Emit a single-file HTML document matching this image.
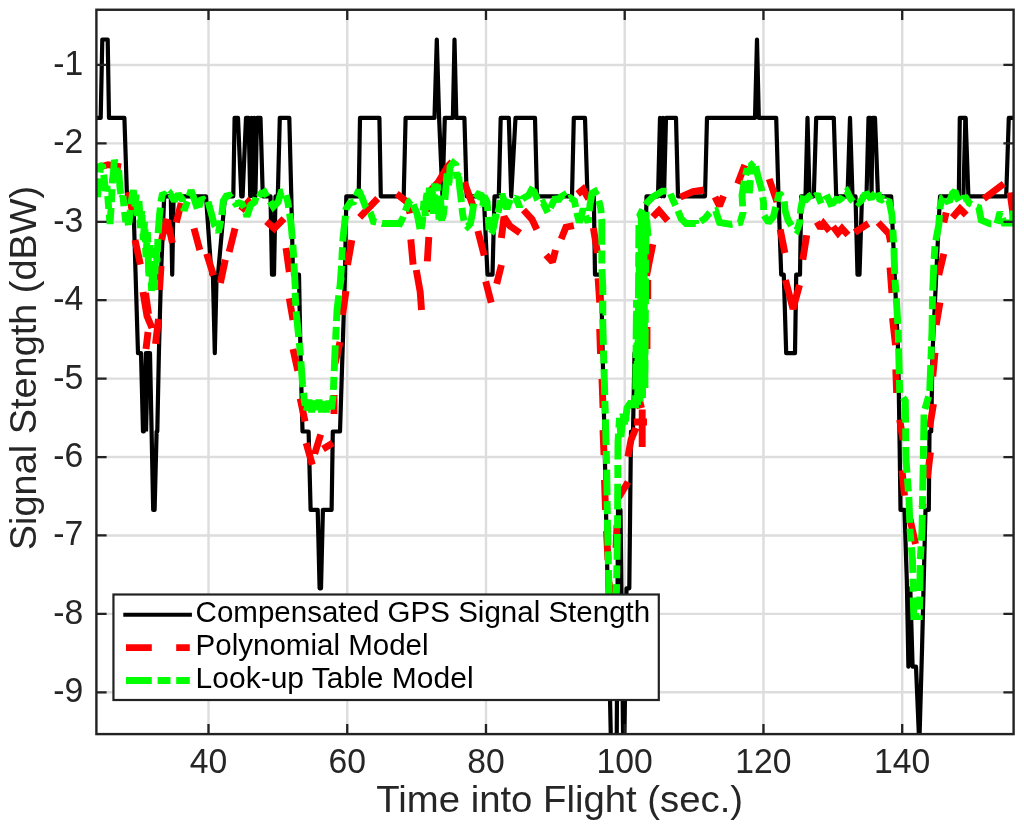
<!DOCTYPE html><html><head><meta charset="utf-8"><title>Signal Strength</title>
<style>html,body{margin:0;padding:0;background:#fff}svg{display:block}text{font-family:"Liberation Sans",Arial,Helvetica,sans-serif}</style></head><body>
<svg width="1024" height="827" viewBox="0 0 1024 827">
<rect width="1024" height="827" fill="#fff"/>
<path d="M208.50 9.75V734.10M347.24 9.75V734.10M485.98 9.75V734.10M624.72 9.75V734.10M763.46 9.75V734.10M902.20 9.75V734.10M96.40 64.94H1013.60M96.40 143.36H1013.60M96.40 221.78H1013.60M96.40 300.20H1013.60M96.40 378.62H1013.60M96.40 457.04H1013.60M96.40 535.46H1013.60M96.40 613.88H1013.60M96.40 692.30H1013.60" stroke="#dddddd" stroke-width="2.4" fill="none"/>
<clipPath id="c"><rect x="96.40" y="9.75" width="917.20" height="724.35"/></clipPath>
<g clip-path="url(#c)" fill="none" stroke-linejoin="round">
<polyline points="96.2,117.9 100.7,117.9 102.3,39.5 107.7,39.5 109.0,117.9 124.4,117.9 127.0,196.3 133.2,196.3 138.0,353.1 141.0,353.1 143.0,431.5 143.8,431.5 145.9,353.1 150.0,353.1 153.2,509.9 154.6,509.9 156.6,431.5 157.3,431.5 158.9,353.1 161.0,274.7 164.2,196.3 170.8,196.3 172.2,274.7 173.6,196.3 206.0,196.3 211.5,274.7 212.9,274.7 214.8,353.1 216.6,274.7 218.0,274.7 225.0,196.3 233.3,196.3 234.6,117.9 238.0,117.9 241.3,196.3 242.6,196.3 246.0,117.9 248.6,117.9 250.2,196.3 251.6,117.9 253.0,196.3 254.2,117.9 255.4,196.3 257.0,117.9 260.5,117.9 262.8,196.3 270.5,196.3 272.0,274.7 274.0,274.7 275.5,196.3 277.8,196.3 279.8,117.9 289.3,117.9 291.3,196.3 293.0,274.7 299.0,274.7 300.5,353.1 302.5,431.5 308.6,431.5 310.6,509.9 317.7,509.9 319.6,588.3 321.0,588.3 322.9,509.9 331.6,509.9 332.8,431.5 340.0,431.5 342.5,353.1 345.0,274.7 346.3,196.3 358.7,196.3 360.0,117.9 379.4,117.9 380.8,196.3 403.7,196.3 405.6,117.9 434.5,117.9 436.8,39.5 439.1,117.9 442.5,196.3 444.8,117.9 452.9,117.9 454.5,39.5 456.3,117.9 464.4,117.9 466.7,196.3 483.8,196.3 487.5,274.7 492.5,274.7 494.5,196.3 498.8,196.3 500.7,117.9 508.8,117.9 511.2,196.3 515.5,117.9 535.0,117.9 537.0,196.3 572.0,196.3 573.8,117.9 585.0,117.9 587.5,196.3 593.8,196.3 595.0,274.7 601.0,274.7 611.0,745.1 616.7,745.1 618.0,509.9 620.5,509.9 623.2,745.1 624.3,745.1 626.5,588.3 629.3,588.3 631.0,431.5 633.0,431.5 634.5,353.1 641.5,353.1 643.5,274.7 645.0,274.7 646.5,196.3 658.0,196.3 660.0,117.9 661.5,196.3 663.0,117.9 664.0,196.3 666.0,117.9 676.0,117.9 678.0,196.3 705.0,196.3 707.0,117.9 755.0,117.9 757.0,39.5 758.8,117.9 776.2,117.9 778.5,196.3 781.2,274.7 783.8,274.7 786.2,353.1 795.0,353.1 796.2,274.7 800.0,274.7 801.2,196.3 805.5,196.3 807.5,117.9 809.5,196.3 813.8,196.3 816.2,117.9 833.8,117.9 836.2,196.3 847.5,196.3 850.0,117.9 852.5,196.3 855.5,196.3 857.5,274.7 859.5,274.7 862.0,196.3 866.5,196.3 868.5,117.9 870.5,117.9 871.5,196.3 872.5,117.9 875.0,117.9 878.0,196.3 891.2,196.3 898.2,353.1 899.7,450.0 900.5,509.9 904.5,509.9 906.8,580.0 908.4,666.7 910.3,588.3 912.6,666.7 916.0,666.7 919.3,745.1 922.0,650.0 925.5,509.9 928.8,509.9 929.5,431.5 931.2,431.5 932.5,353.1 940.0,196.3 958.8,196.3 959.8,117.9 965.6,117.9 968.4,196.3 1006.2,196.3 1008.8,117.9 1014.5,117.9" stroke="#000" stroke-width="4.2"/>
<polyline points="965.4,117.9 963.4,196.3" stroke="#000" stroke-width="4.2"/>
<polyline points="148.0,353.1 146.0,431.5" stroke="#000" stroke-width="4.2"/>
<path d="M96.0 168.0L108.0 164.7L121.0 167.0M128.3 192.0L133.0 214.6M135.0 240.0L140.4 264.6M143.0 292.0L147.0 316.0L152.0 328.0M145.5 293.0L148.5 314.0M148.0 332.0L146.0 349.0M155.5 343.8L158.5 319.0M159.5 290.0L161.0 266.0M161.6 240.0L166.5 218.6M167.5 220.5L172.4 243.0M176.3 222.5L181.2 203.0M194.0 228.4L199.8 250.0M206.7 253.8L213.5 275.4M220.4 283.0L225.3 259.7M229.2 251.9L235.0 228.4M241.0 210.7L250.8 199.0M266.4 221.5L274.3 228.4L284.0 218.6M286.0 248.0L289.3 272.0M289.3 298.3L293.0 320.0M293.0 349.0L297.8 370.8M300.2 398.5L305.0 421.5M306.2 443.0L312.3 464.7M314.7 453.8L320.7 434.5M323.0 449.0L332.8 443.0M334.0 414.0L334.0 395.0M335.0 363.5L340.0 342.0M342.5 315.0L346.0 291.0M347.5 265.0L351.8 240.2M359.7 217.4L377.7 198.5M396.6 193.8L407.6 202.5L410.0 213.5M410.8 239.4L413.1 264.6M416.3 270.0L420.2 292.0L421.5 310.0M427.3 261.4L428.8 237.0M429.3 212.0L431.0 190.0L438.3 182.0L447.7 166.3L452.0 162.0M464.2 182.0L472.9 205.6M477.9 231.0L484.2 255.5M485.7 281.4L491.2 302.6M496.7 283.8L501.4 265.0M501.4 238.0L504.0 217.0L510.0 226.0L520.0 233.0M523.5 210.0L532.0 219.3L536.8 229.5M546.0 255.0L552.5 262.0L555.5 250.0M561.2 239.0L565.9 227.2L573.8 225.6M577.7 194.0L583.2 189.4L588.7 198.9M593.4 228.0L597.4 253.0M598.1 278.3L599.7 302.6M599.7 329.0L600.5 354.0M602.0 379.0L603.0 408.0M603.0 430.0L604.0 455.0M604.5 480.0L605.5 510.0M606.5 531.0L608.0 560.0M609.0 582.0L611.0 600.0L614.0 585.0M616.0 548.0L617.0 525.0M618.6 497.5L628.0 482.0M628.0 456.6L631.0 440.0L636.0 428.0M634.0 422.0L647.0 422.0M642.2 447.0L642.2 409.4M636.0 406.0L644.0 404.0M647.0 349.0L647.0 327.0M647.7 299.0L647.7 280.0M646.5 275.8L652.8 244.3M652.8 216.8L659.0 210.5L667.7 220.8M680.3 197.2L693.0 191.7L704.0 190.0M715.0 197.0L719.5 206.0L723.5 196.0M737.7 183.8L744.8 165.0M769.2 179.0L777.0 201.9M780.2 229.4L784.9 253.0M785.5 280.0L793.0 309.0L799.5 285.0M802.8 259.7L806.7 235.2M817.0 222.0L820.5 228.0L823.5 223.5L829.5 231.0M833.0 226.5L838.0 233.0L842.0 228.5L848.0 235.0M854.7 232.3L868.4 223.5M878.2 222.5L889.0 234.0L890.5 242.0M890.0 267.5L891.9 293.0M892.5 318.0L895.5 345.0M895.8 369.3L896.6 393.0M899.7 419.6L903.0 440.0M902.0 470.4L904.5 495.6M910.0 519.0L915.5 544.0M921.8 508.0L923.3 503.0M927.3 478.3L930.4 452.4M929.6 427.5L933.5 404.0M932.8 376.4L935.0 352.8M936.2 325.0L940.0 302.5M938.8 275.0L943.8 253.8M943.8 222.5L946.2 212.5M952.5 217.5L960.0 208.8L966.2 215.0M983.8 198.8L1003.8 183.8M1010.0 192.5L1012.5 210.0L1014.0 222.0" stroke="#f00" stroke-width="6.9" stroke-linejoin="miter" stroke-miterlimit="1.7"/>
<path d="M96.4 190.0L97.5 197.0L99.0 182.0L99.3 178.4M99.9 172.6L100.5 166.0L102.5 165.0L103.0 169.0M103.7 174.7L104.0 177.0L105.5 191.0L107.0 186.0L107.3 190.1M107.7 195.9L108.5 206.0L108.7 208.8M109.2 214.5L110.0 224.0L111.1 207.8M111.4 202.0L112.1 189.1M112.3 183.4L112.5 180.0L113.5 172.0L114.4 160.0L115.0 162.2M116.2 167.8L117.3 179.0L117.5 177.3M118.4 171.7L118.6 170.0L120.0 188.0L120.8 194.0M121.8 198.3L123.0 196.0L123.9 206.2M124.5 211.9L125.8 222.0L127.2 216.0L128.4 225.4M129.0 222.9L130.0 214.0L130.4 210.0M131.0 204.4L131.5 200.0L133.3 190.0L134.3 201.2M134.8 207.0L134.8 207.0L136.2 195.0L136.3 195.8M136.6 201.5L137.6 216.0L138.6 204.8M139.0 201.0L139.7 213.9M140.0 219.6L140.4 228.0L141.7 210.7M142.0 215.1L142.6 228.0M142.9 233.7L143.2 240.0L144.6 222.0L144.7 223.4M144.9 229.2L145.4 242.1M145.6 247.8L146.0 257.0L146.9 240.4M147.3 234.6L147.4 232.0L147.7 242.3M147.9 247.9L148.7 273.7M148.9 276.5L149.4 263.6M149.7 257.9L150.2 245.0L150.6 257.9M150.8 263.7L151.2 276.6M151.3 282.3L151.6 291.0L152.4 273.9M152.7 268.1L153.0 262.0L153.3 268.7M153.6 274.4L154.4 290.0L154.7 279.8M154.9 274.0L155.4 261.1M155.6 255.4L155.8 248.0L157.0 262.0L157.2 257.7M157.4 251.9L157.9 239.0M158.1 233.3L158.2 232.0L159.5 215.0L160.3 207.6M160.9 201.8L161.0 201.0L162.6 193.1L165.7 195.6M169.9 194.6L170.4 194.1L174.4 200.9L178.3 194.1L182.2 199.0L182.7 202.0M183.6 207.7L184.1 210.7L187.3 201.4M189.1 196.0L191.0 190.2L194.9 200.9L197.3 208.8M199.0 207.1L201.8 198.0L204.1 200.4M208.1 201.6L211.6 214.6L214.5 225.4L215.1 226.4M218.0 231.4L218.4 232.3L220.9 220.6M221.8 215.0L223.3 200.9L226.3 196.0L229.2 195.3L231.0 197.6M234.5 202.3L235.6 203.8L239.0 202.9L241.9 203.8L244.2 207.6M245.9 213.0L246.8 216.6L250.8 204.8L254.7 201.9L256.0 197.4M257.9 192.3L261.0 194.2L264.5 192.1L267.0 196.6M270.0 201.5L273.3 206.8L278.2 201.9L281.1 192.1L283.4 191.5M286.0 195.2L288.0 202.9L288.7 207.8M289.5 213.4L290.9 222.5L292.4 239.0M292.9 244.8L293.7 257.7M294.0 263.4L294.2 267.5L295.3 289.2M295.1 292.8L295.8 305.7M296.1 311.4L298.0 330.0L298.7 337.0M299.3 342.8L300.2 351.5L300.5 355.6M300.9 361.3L302.6 385.0L302.8 387.1M303.5 392.8L304.5 402.0L305.3 405.6M306.5 410.9L309.0 400.0L311.5 412.0L312.0 409.7M313.3 404.0L314.0 401.0L316.2 410.6M317.4 407.8L319.0 400.0L321.5 412.0L322.7 406.6M324.0 401.0L326.5 412.0L326.9 410.4M328.1 404.8L329.0 401.0L331.5 409.0L333.1 395.6M333.4 389.8L333.9 376.9M334.2 371.2L335.0 351.5L335.3 345.4M335.6 339.6L336.2 326.8M336.5 321.1L337.0 310.0L338.8 295.4M339.5 289.6L341.3 276.9M341.0 278.8L340.1 285.2L341.4 267.5L341.5 265.8M341.8 260.1L342.2 251.9L342.5 247.2M342.8 241.5L343.0 238.1L345.0 220.5L345.4 215.8M345.8 210.0L346.0 208.8L349.9 202.9L353.8 201.9L354.0 201.4M356.2 196.2L358.7 190.2L362.6 199.0L365.5 206.8L366.4 207.8M370.1 212.2L370.4 212.7L373.4 221.5L376.3 222.2M381.9 223.4L382.2 223.5L390.0 223.5L397.9 223.3L399.9 223.6L402.9 217.7L403.3 216.6M405.3 211.1L405.8 209.8L408.7 202.0L411.2 200.0M413.3 204.3L414.6 207.9L417.1 213.8L419.0 223.6L420.0 229.1M421.1 229.0L422.4 222.6L422.9 216.2M423.3 210.5L423.9 201.0L425.4 215.7L425.5 214.2M425.8 208.4L426.4 195.5M426.8 192.6L428.0 209.8L428.6 201.3M428.9 195.5L429.4 187.8L429.8 193.0M430.2 198.6L430.8 205.9L432.0 187.5M432.3 189.0L432.9 201.9M433.2 207.6L433.5 213.8L434.4 194.1M434.7 188.4L434.9 183.4L435.3 191.3M435.6 197.0L436.3 209.8L437.0 196.9M437.3 191.1L437.6 184.4L437.9 190.5M438.1 196.2L439.0 219.6L439.1 217.3M439.4 211.5L440.1 198.6M440.4 195.5L441.7 221.2M442.6 218.2L443.5 213.8L444.3 205.5M444.9 199.8L445.0 199.1L446.1 184.4L447.0 174.1M447.5 173.0L448.6 185.9M449.0 183.1L450.1 166.8L453.3 162.8L455.7 164.8L455.9 166.0M456.3 171.8L456.9 178.5L458.1 172.4M458.7 176.5L459.7 187.3L461.1 199.1L461.4 202.2M462.0 207.9L462.6 213.8L464.0 220.7M466.5 225.5L467.5 226.5L470.4 223.6L472.4 213.8L473.7 203.6M475.4 198.1L478.3 194.2L481.2 195.2L481.9 200.1M482.6 205.7L482.7 205.9L484.1 196.1L487.1 202.0L487.8 211.1M488.3 216.9L489.0 229.4L489.1 229.7M491.0 233.6L492.5 231.4L493.9 225.5L496.0 213.8L496.0 218.6L496.1 218.2M497.8 212.6L498.9 208.8L500.7 200.1M501.8 194.5L501.9 194.1L504.8 202.9L506.8 208.8L510.4 199.6M515.5 197.1L515.6 197.0L519.5 206.8L520.3 204.7M522.3 199.4L522.4 198.9L525.4 197.0L528.3 195.6L531.3 190.2L534.2 191.7L537.1 199.0L537.7 200.0M541.1 203.6L543.0 202.9L547.9 212.6M550.4 207.7L552.8 202.9L555.4 197.4L558.0 200.8L560.6 197.0L563.9 195.0L564.9 196.4M569.0 198.7L570.4 198.0L574.4 200.9L575.7 207.2M576.9 212.7L577.3 214.6L579.3 222.5L583.2 208.8L583.7 210.2M585.6 215.7L588.1 222.5L588.7 216.8M589.3 211.2L590.0 204.8L592.0 193.1L594.9 191.5L596.9 195.2M598.8 200.6L600.8 208.8L601.2 213.3M601.6 219.0L601.8 220.5L601.8 238.1L601.8 244.7M601.8 250.5L601.8 263.4M601.9 269.1L602.8 287.1L602.8 294.9M602.8 300.7L602.8 312.0L602.5 312.0L602.5 313.4M602.7 319.1L603.4 344.9M603.5 350.7L603.9 363.5M604.0 369.2L604.8 395.0M604.9 400.8L605.2 410.0L605.3 413.7M605.4 419.4L606.1 445.2M606.3 451.0L606.5 460.0L606.6 463.9M606.7 469.6L607.1 495.4M607.1 501.2L607.4 514.1M607.4 519.8L607.6 530.0L608.0 545.6M608.1 551.4L608.4 564.3M608.5 570.0L609.0 590.0L609.2 595.8M609.5 601.6L610.0 614.5M610.3 620.2L610.5 625.0L612.5 640.0L613.1 634.2M613.7 628.4L614.5 620.0L614.8 615.6M615.2 609.9L616.5 590.0L616.6 584.1M616.7 578.3L616.9 565.4M617.0 559.7L617.4 534.0M617.5 528.2L617.6 515.3M617.6 509.6L617.7 483.8M617.8 478.0L617.8 470.0L617.8 465.1M617.9 459.4L618.0 442.0L618.5 433.6M618.9 427.8L619.5 418.0L619.7 421.1M620.2 426.8L621.0 437.0L622.3 421.5M622.8 415.7L623.0 414.0L624.8 425.0M625.5 421.3L627.0 408.0L631.0 402.0L633.5 406.5M635.5 408.2L635.6 395.3M635.7 389.6L635.9 363.8M636.0 358.0L636.1 345.1M636.1 339.4L636.4 313.6M636.4 307.8L636.5 300.0L636.6 305.1M636.6 310.8L636.9 336.6M637.0 342.4L637.1 355.3M637.2 361.0L637.5 386.8M637.6 392.6L637.7 405.0L637.7 404.5M637.7 398.8L637.9 373.0M638.0 367.2L638.0 354.3M638.1 348.6L638.2 322.8M638.3 317.0L638.4 304.1M638.4 298.4L638.6 272.6M638.6 266.8L638.7 253.9M638.7 248.2L638.9 225.0L638.9 227.6M639.0 233.4L639.0 246.3M639.1 252.0L639.3 277.8M639.3 283.6L639.4 296.5M639.4 302.2L639.6 328.0M639.6 333.8L639.7 346.7M639.8 352.4L639.9 378.2M640.0 384.0L640.1 396.9M640.1 401.4L640.3 375.6M640.3 369.8L640.4 356.9M640.4 351.2L640.6 325.4M640.6 319.6L640.7 306.7M640.8 301.0L640.9 275.2M641.0 269.4L641.0 256.5M641.1 250.8L641.3 225.0M641.3 219.2L641.3 218.0L641.4 229.7M641.4 235.4L641.6 261.2M641.6 267.0L641.7 279.9M641.8 285.6L641.9 311.4M642.0 317.2L642.0 330.1M642.1 335.8L642.3 361.6M642.3 367.4L642.4 380.3M642.4 386.0L642.5 398.0L642.6 384.2M642.6 378.4L642.7 365.5M642.8 359.8L642.9 334.0M643.0 328.2L643.0 315.3M643.1 309.6L643.2 283.8M643.3 278.0L643.4 265.1M643.4 259.4L643.6 233.6M643.6 227.8L643.7 215.0L643.7 215.1M643.7 220.8L643.9 246.6M644.0 252.4L644.0 265.3M644.1 271.0L644.3 296.8M644.3 302.6L644.4 315.5M644.4 321.2L644.6 347.0M644.7 352.8L644.7 365.7M644.8 371.4L644.9 388.0L645.0 378.8M645.0 373.0L645.1 360.1M645.1 354.4L645.3 328.6M645.3 322.8L645.4 309.9M645.5 304.2L645.6 278.4M645.7 272.6L645.8 259.8M645.8 254.1L646.0 228.3M646.0 222.5L646.1 212.0L646.3 214.4M646.7 220.1L648.0 236.0L644.5 226.8M642.5 221.3L640.0 214.6L642.6 209.5M645.6 204.7L646.8 202.9L652.7 197.0L662.5 191.1L666.4 191.1M670.4 193.8L673.3 200.9L675.6 205.6M678.0 210.7L681.1 218.6L686.0 223.5L695.8 223.5L695.9 224.1M700.5 221.4L704.8 218.6L709.7 212.7L709.8 212.6M715.2 210.8L715.6 210.7L719.5 222.5L731.3 224.4L732.4 224.2M738.0 222.9L740.1 222.5L743.0 212.7L743.0 212.1M742.7 206.4L742.0 195.1L744.4 180.8M745.6 175.2L747.3 168.6L747.8 174.7M748.3 180.4L749.3 193.1L750.4 180.1M750.8 174.3L751.6 164.7L754.0 162.5M755.7 166.3L757.7 175.5L761.6 189.2L761.9 191.3M762.7 197.1L763.6 202.9L763.6 209.9M764.1 215.5L768.5 222.5L773.4 216.6L775.3 208.8L775.8 207.0M777.2 201.4L779.3 193.1L782.0 196.4M784.3 201.4L785.1 210.7L788.1 220.5L791.5 225.7M795.8 229.5L796.9 230.3L799.8 222.5L800.0 219.3M800.5 213.6L800.8 208.8L802.8 199.0L806.2 199.5L809.6 196.0L811.7 194.6M815.7 196.2L817.4 194.1L821.2 203.5M824.7 199.7L825.3 199.0L827.9 197.8L830.5 203.6L833.1 202.9L836.1 199.5L839.0 200.0L841.6 198.2L842.7 196.1M846.2 191.6L846.8 191.1L850.8 199.0L852.9 201.5M857.4 201.8L858.6 202.9L861.5 200.3L864.5 195.1L867.1 194.3L869.7 197.4L872.3 197.0L875.1 193.1M877.8 192.3L880.1 200.9L883.1 198.9L883.4 199.2M887.6 200.9L888.9 200.0L891.9 214.6L892.5 223.8M892.9 229.6L893.6 242.4M893.9 248.1L894.7 273.9M895.0 279.7L895.9 292.6M896.3 298.3L897.8 324.0M898.2 329.8L898.2 330.0L898.5 342.7M898.6 348.4L899.3 374.2M899.4 380.0L899.7 392.9M903.0 397.5L905.3 400.8L905.6 422.6M905.6 428.4L905.8 441.3M905.8 447.0L906.0 460.0L907.0 472.7M907.4 478.5L908.4 491.4M908.8 497.1L909.0 500.0L909.8 522.9M910.0 528.7L910.0 530.0L911.0 541.5M911.4 547.2L912.5 560.0L912.8 572.9M912.9 578.7L913.1 591.6M913.2 597.3L913.3 600.0L913.8 616.5L919.2 616.5L919.2 615.3M919.4 609.5L919.7 600.0L919.8 596.6M919.8 590.9L920.2 565.1M920.3 559.3L921.1 546.4M921.4 540.7L922.0 530.0L922.3 514.9M922.3 509.1L922.5 500.0L922.6 496.2M922.7 490.5L923.2 464.7M923.3 458.9L923.5 446.0M923.6 440.3L924.0 414.5M924.9 408.9L928.6 396.5M929.7 391.0L930.7 365.2M930.9 359.4L931.4 346.5M931.6 340.8L932.0 330.0L932.2 315.0M932.3 309.2L932.5 297.0L932.5 296.3M932.7 290.6L933.8 265.0L933.8 264.8M934.1 259.0L934.9 246.2M935.8 240.5L938.8 225.0L939.5 215.0M939.9 209.3L940.0 207.5L942.5 197.5L943.2 197.1M946.7 199.3L947.5 200.9L950.0 200.0L952.5 193.5L955.0 191.0L957.5 198.5L959.0 201.0M962.3 199.2L963.0 198.3L966.0 198.0L969.2 203.2L971.5 204.4M976.7 206.7L978.8 207.5L981.2 220.0L990.0 223.8L991.3 223.8M997.0 223.6L1000.0 212.0L1000.3 212.9M1002.3 218.2L1004.0 223.0L1012.5 223.0L1013.2 210.8M1013.5 205.0L1013.5 205.0" stroke="#0f0" stroke-width="6.9" stroke-linejoin="miter" stroke-miterlimit="1.7"/>
</g>
<path d="M208.50 734.10v-10.20M208.50 9.75v10.20M347.24 734.10v-10.20M347.24 9.75v10.20M485.98 734.10v-10.20M485.98 9.75v10.20M624.72 734.10v-10.20M624.72 9.75v10.20M763.46 734.10v-10.20M763.46 9.75v10.20M902.20 734.10v-10.20M902.20 9.75v10.20M96.40 64.94h10.20M1013.60 64.94h-10.20M96.40 143.36h10.20M1013.60 143.36h-10.20M96.40 221.78h10.20M1013.60 221.78h-10.20M96.40 300.20h10.20M1013.60 300.20h-10.20M96.40 378.62h10.20M1013.60 378.62h-10.20M96.40 457.04h10.20M1013.60 457.04h-10.20M96.40 535.46h10.20M1013.60 535.46h-10.20M96.40 613.88h10.20M1013.60 613.88h-10.20M96.40 692.30h10.20M1013.60 692.30h-10.20" stroke="#222" stroke-width="2.3" fill="none"/>
<rect x="96.40" y="9.75" width="917.20" height="724.35" fill="none" stroke="#222" stroke-width="2.4"/>
<text transform="translate(208.50,772.60) scale(0.9660,1)" font-size="34.9" text-anchor="middle" fill="#262626">40</text>
<text transform="translate(347.24,772.60) scale(0.9660,1)" font-size="34.9" text-anchor="middle" fill="#262626">60</text>
<text transform="translate(485.98,772.60) scale(0.9660,1)" font-size="34.9" text-anchor="middle" fill="#262626">80</text>
<text transform="translate(624.72,772.60) scale(0.9660,1)" font-size="34.9" text-anchor="middle" fill="#262626">100</text>
<text transform="translate(763.46,772.60) scale(0.9660,1)" font-size="34.9" text-anchor="middle" fill="#262626">120</text>
<text transform="translate(902.20,772.60) scale(0.9660,1)" font-size="34.9" text-anchor="middle" fill="#262626">140</text>
<text transform="translate(83.20,74.94) scale(0.9660,1)" font-size="34.9" text-anchor="end" fill="#262626">-1</text>
<text transform="translate(83.20,153.36) scale(0.9660,1)" font-size="34.9" text-anchor="end" fill="#262626">-2</text>
<text transform="translate(83.20,231.78) scale(0.9660,1)" font-size="34.9" text-anchor="end" fill="#262626">-3</text>
<text transform="translate(83.20,310.20) scale(0.9660,1)" font-size="34.9" text-anchor="end" fill="#262626">-4</text>
<text transform="translate(83.20,388.62) scale(0.9660,1)" font-size="34.9" text-anchor="end" fill="#262626">-5</text>
<text transform="translate(83.20,467.04) scale(0.9660,1)" font-size="34.9" text-anchor="end" fill="#262626">-6</text>
<text transform="translate(83.20,545.46) scale(0.9660,1)" font-size="34.9" text-anchor="end" fill="#262626">-7</text>
<text transform="translate(83.20,623.88) scale(0.9660,1)" font-size="34.9" text-anchor="end" fill="#262626">-8</text>
<text transform="translate(83.20,702.30) scale(0.9660,1)" font-size="34.9" text-anchor="end" fill="#262626">-9</text>
<text transform="translate(559.70,812.10) scale(1.0470,1)" font-size="36.6" text-anchor="middle" fill="#262626">Time into Flight (sec.)</text>
<text transform="translate(36.20,368.00) rotate(-90) scale(1.0360,1)" font-size="36.6" text-anchor="middle" fill="#262626">Signal Stength (dBW)</text>
<rect x="113.45" y="594.5" width="545.35" height="105.5" fill="#fff" stroke="#222" stroke-width="2.2"/>
<path d="M123.3 614.75H191.9" stroke="#000" stroke-width="4.2"/>
<path d="M126 647.6H189.8" stroke="#f00" stroke-width="6.9" stroke-dasharray="25.8 24.4"/>
<path d="M126 680.5H189.8" stroke="#0f0" stroke-width="6.9" stroke-dasharray="25.8 5.8 12.9 5.7"/>
<text transform="translate(195.60,622.10) scale(0.9940,1)" font-size="29.7" text-anchor="start" fill="#000">Compensated GPS Signal Stength</text>
<text transform="translate(195.60,655.10) scale(0.9940,1)" font-size="29.7" text-anchor="start" fill="#000">Polynomial Model</text>
<text transform="translate(195.60,687.60) scale(1.0107,1)" font-size="29.7" text-anchor="start" fill="#000">Look-up Table Model</text>
</svg></body></html>
